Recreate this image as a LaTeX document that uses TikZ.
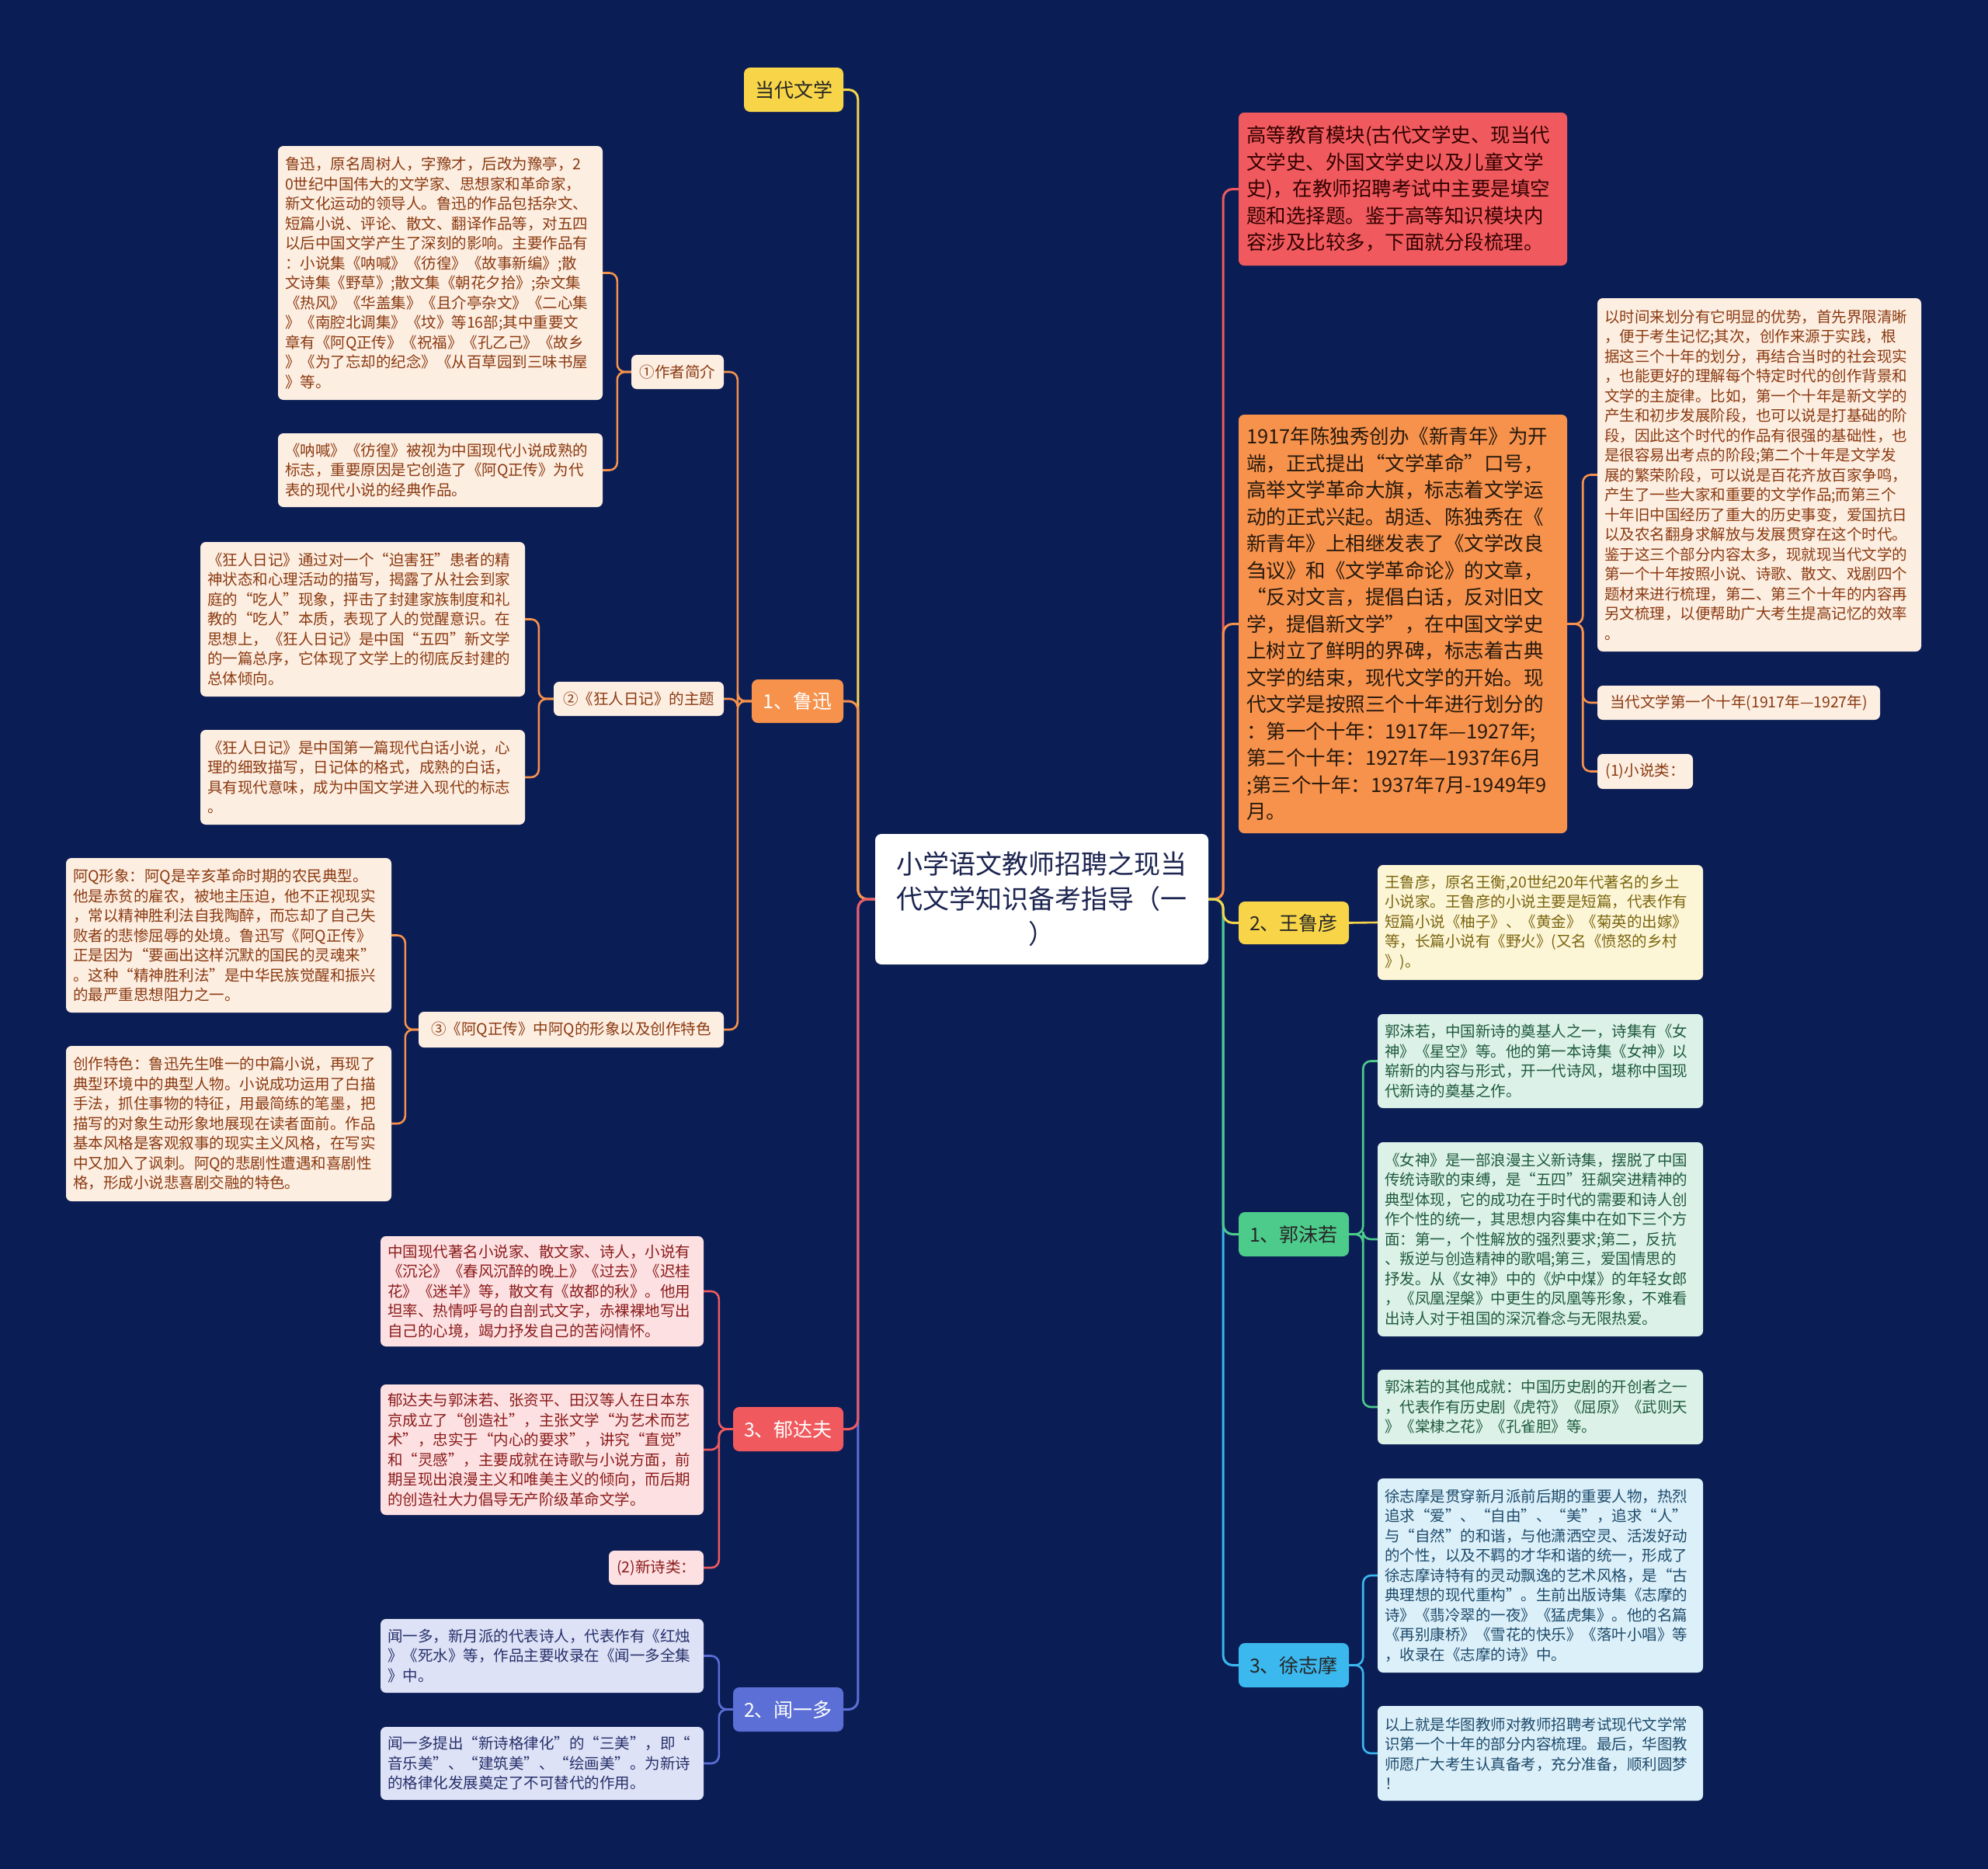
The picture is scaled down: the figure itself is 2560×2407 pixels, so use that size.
\documentclass[tikz,border=0pt]{standalone}
\usepackage{fontspec}
\setmainfont{Noto Sans CJK SC}
\definecolor{bg}{HTML}{0B1D55}
\definecolor{cY}{HTML}{F8D548}
\definecolor{cO}{HTML}{F7924C}
\definecolor{cR}{HTML}{F05A5E}
\definecolor{cB}{HTML}{5B6FD6}
\definecolor{cG}{HTML}{4DCB8B}
\definecolor{cC}{HTML}{3BB8EE}
\definecolor{fO}{HTML}{FDEEE2}\definecolor{tO}{HTML}{8A3A10}
\definecolor{fR}{HTML}{FDE1E2}\definecolor{tR}{HTML}{8B1B1B}
\definecolor{fB}{HTML}{DEE2F6}\definecolor{tB}{HTML}{26306B}
\definecolor{fY}{HTML}{FDF6D6}\definecolor{tY}{HTML}{7A6510}
\definecolor{fG}{HTML}{DCF2E8}\definecolor{tG}{HTML}{1F5A3E}
\definecolor{fC}{HTML}{DCF0FA}\definecolor{tC}{HTML}{1E4B6B}
\definecolor{dark}{HTML}{1C2450}
\begin{document}
\begin{tikzpicture}[x=1pt,y=-1pt,
  leaf/.style={rounded corners=7pt, inner xsep=9pt, inner ysep=0pt, align=left,
    font=\fontsize{19.5}{25.5}\selectfont, anchor=center},
  small/.style={rounded corners=7pt, inner sep=0pt, align=center,
    font=\fontsize{19.5}{24}\selectfont, anchor=center, minimum height=44pt},
  topic/.style={rounded corners=8pt, inner sep=0pt, align=center,
    font=\fontsize{25}{30}\selectfont, anchor=center, minimum height=57pt, minimum width=142pt},
  big/.style={rounded corners=7pt, inner xsep=10pt, inner ysep=0pt, align=left,
    font=\fontsize{25.5}{34.5}\selectfont, anchor=center, text width=403pt, minimum height=#1},
  conn/.style={line width=2.6pt, rounded corners=10pt},
  mconn/.style={line width=3pt, rounded corners=12pt}
]
\fill[bg] (0,0) rectangle (2560,2407);
\useasboundingbox (0,0) rectangle (2560,2407);

% central
\node[fill=white, rounded corners=8pt, minimum width=429pt, minimum height=168pt, inner sep=0pt,
  align=center, text=dark, font=\fontsize{34}{45}\selectfont] (root) at (1341.5,1158)
  {小学语文教师招聘之现当\\代文学知识备考指导（一\\）};

% ---------- left level 1
\node[topic, fill=cY, text=black!85, minimum width=128pt] (ddwx) at (1022,115.5) {当代文学};
\node[topic, fill=cO, text=white, minimum width=118pt, minimum height=56pt] (lx) at (1027,903) {1、鲁迅};
\node[topic, fill=cR, text=white] (ydf) at (1015,1840.5) {3、郁达夫};
\node[topic, fill=cB, text=white] (wyd) at (1015,2201.5) {2、闻一多};

% ---------- Lu Xun level 2
\node[small, fill=fO, text=tO, minimum width=119pt] (zz) at (872.5,479) {①作者简介};
\node[small, fill=fO, text=tO, minimum width=219pt] (krt) at (822.5,900) {②《狂人日记》的主题};
\node[small, fill=fO, text=tO, minimum width=393pt, minimum height=46pt] (aqt) at (735.5,1326) {③《阿Q正传》中阿Q的形象以及创作特色};

% ---------- Lu Xun leaves
\node[leaf, fill=fO, text=tO, text width=400pt, minimum height=327pt] (lx1) at (567,351.5)
{鲁迅，原名周树人，字豫才，后改为豫亭，2\\0世纪中国伟大的文学家、思想家和革命家，\\新文化运动的领导人。鲁迅的作品包括杂文、\\短篇小说、评论、散文、翻译作品等，对五四\\以后中国文学产生了深刻的影响。主要作品有\\：小说集《呐喊》《彷徨》《故事新编》;散\\文诗集《野草》;散文集《朝花夕拾》;杂文集\\《热风》《华盖集》《且介亭杂文》《二心集\\》《南腔北调集》《坟》等16部;其中重要文\\章有《阿Q正传》《祝福》《孔乙己》《故乡\\》《为了忘却的纪念》《从百草园到三味书屋\\》等。};
\node[leaf, fill=fO, text=tO, text width=400pt, minimum height=95pt] (lx2) at (567,605.5)
{《呐喊》《彷徨》被视为中国现代小说成熟的\\标志，重要原因是它创造了《阿Q正传》为代\\表的现代小说的经典作品。};
\node[leaf, fill=fO, text=tO, text width=400pt, minimum height=199pt] (kr1) at (467,797.5)
{《狂人日记》通过对一个“迫害狂”患者的精\\神状态和心理活动的描写，揭露了从社会到家\\庭的“吃人”现象，抨击了封建家族制度和礼\\教的“吃人”本质，表现了人的觉醒意识。在\\思想上，《狂人日记》是中国“五四”新文学\\的一篇总序，它体现了文学上的彻底反封建的\\总体倾向。};
\node[leaf, fill=fO, text=tO, text width=400pt, minimum height=122pt] (kr2) at (467,1001)
{《狂人日记》是中国第一篇现代白话小说，心\\理的细致描写，日记体的格式，成熟的白话，\\具有现代意味，成为中国文学进入现代的标志\\。};
\node[leaf, fill=fO, text=tO, text width=401pt, minimum height=199pt] (aq1) at (294.5,1204.5)
{阿Q形象：阿Q是辛亥革命时期的农民典型。\\他是赤贫的雇农，被地主压迫，他不正视现实\\，常以精神胜利法自我陶醉，而忘却了自己失\\败者的悲惨屈辱的处境。鲁迅写《阿Q正传》\\正是因为“要画出这样沉默的国民的灵魂来”\\。这种“精神胜利法”是中华民族觉醒和振兴\\的最严重思想阻力之一。};
\node[leaf, fill=fO, text=tO, text width=401pt, minimum height=200pt] (aq2) at (294.5,1447)
{创作特色：鲁迅先生唯一的中篇小说，再现了\\典型环境中的典型人物。小说成功运用了白描\\手法，抓住事物的特征，用最简练的笔墨，把\\描写的对象生动形象地展现在读者面前。作品\\基本风格是客观叙事的现实主义风格，在写实\\中又加入了讽刺。阿Q的悲剧性遭遇和喜剧性\\格，形成小说悲喜剧交融的特色。};

% ---------- Yu Dafu leaves
\node[leaf, fill=fR, text=tR, text width=398pt, minimum height=142pt] (yd1) at (698,1663)
{中国现代著名小说家、散文家、诗人，小说有\\《沉沦》《春风沉醉的晚上》《过去》《迟桂\\花》《迷羊》等，散文有《故都的秋》。他用\\坦率、热情呼号的自剖式文字，赤裸裸地写出\\自己的心境，竭力抒发自己的苦闷情怀。};
\node[leaf, fill=fR, text=tR, text width=398pt, minimum height=168pt] (yd2) at (698,1867)
{郁达夫与郭沫若、张资平、田汉等人在日本东\\京成立了“创造社”，主张文学“为艺术而艺\\术”，忠实于“内心的要求”，讲究“直觉”\\和“灵感”，主要成就在诗歌与小说方面，前\\期呈现出浪漫主义和唯美主义的倾向，而后期\\的创造社大力倡导无产阶级革命文学。};
\node[small, fill=fR, text=tR, minimum width=122pt] (xsl) at (845,2019) {(2)新诗类：};

% ---------- Wen Yiduo leaves
\node[leaf, fill=fB, text=tB, text width=398pt, minimum height=95pt] (wy1) at (698,2132.5)
{闻一多，新月派的代表诗人，代表作有《红烛\\》《死水》等，作品主要收录在《闻一多全集\\》中。};
\node[leaf, fill=fB, text=tB, text width=398pt, minimum height=94pt] (wy2) at (698,2271)
{闻一多提出“新诗格律化”的“三美”，即“\\音乐美”、“建筑美”、“绘画美”。为新诗\\的格律化发展奠定了不可替代的作用。};

% ---------- right level 1
\node[big=197pt, fill=cR, text=black!80!red] (red) at (1806.5,243.5)
{高等教育模块(古代文学史、现当代\\文学史、外国文学史以及儿童文学\\史)，在教师招聘考试中主要是填空\\题和选择题。鉴于高等知识模块内\\容涉及比较多，下面就分段梳理。};
\node[big=539pt, fill=cO, text=black!80!brown] (org) at (1806.5,803.5)
{1917年陈独秀创办《新青年》为开\\端，正式提出“文学革命”口号，\\高举文学革命大旗，标志着文学运\\动的正式兴起。胡适、陈独秀在《\\新青年》上相继发表了《文学改良\\刍议》和《文学革命论》的文章，\\“反对文言，提倡白话，反对旧文\\学，提倡新文学”，在中国文学史\\上树立了鲜明的界碑，标志着古典\\文学的结束，现代文学的开始。现\\代文学是按照三个十年进行划分的\\：第一个十年：1917年—1927年;\\第二个十年：1927年—1937年6月\\;第三个十年：1937年7月-1949年9\\月。};
\node[topic, fill=cY, text=black!85, minimum height=55pt] (wly) at (1666,1188.5) {2、王鲁彦};
\node[topic, fill=cG, text=black!85] (gmr) at (1666,1589.5) {1、郭沫若};
\node[topic, fill=cC, text=black!85] (xzm) at (1666,2144.5) {3、徐志摩};

% ---------- orange children
\node[leaf, fill=fO, text=tO, text width=399pt, minimum height=455pt] (sj) at (2265.5,611.5)
{以时间来划分有它明显的优势，首先界限清晰\\，便于考生记忆;其次，创作来源于实践，根\\据这三个十年的划分，再结合当时的社会现实\\，也能更好的理解每个特定时代的创作背景和\\文学的主旋律。比如，第一个十年是新文学的\\产生和初步发展阶段，也可以说是打基础的阶\\段，因此这个时代的作品有很强的基础性，也\\是很容易出考点的阶段;第二个十年是文学发\\展的繁荣阶段，可以说是百花齐放百家争鸣，\\产生了一些大家和重要的文学作品;而第三个\\十年旧中国经历了重大的历史事变，爱国抗日\\以及农名翻身求解放与发展贯穿在这个时代。\\鉴于这三个部分内容太多，现就现当代文学的\\第一个十年按照小说、诗歌、散文、戏剧四个\\题材来进行梳理，第二、第三个十年的内容再\\另文梳理，以便帮助广大考生提高记忆的效率\\。};
\node[small, fill=fO, text=tO, minimum width=364pt] (dd) at (2239,905) {当代文学第一个十年(1917年—1927年)};
\node[small, fill=fO, text=tO, minimum width=123pt, minimum height=45pt] (xs) at (2118.5,993.5) {(1)小说类：};

% ---------- Wang Luyan
\node[leaf, fill=fY, text=tY, text width=401pt, minimum height=148pt] (wl1) at (1983.5,1188)
{王鲁彦，原名王衡,20世纪20年代著名的乡土\\小说家。王鲁彦的小说主要是短篇，代表作有\\短篇小说《柚子》、《黄金》《菊英的出嫁》\\等，长篇小说有《野火》(又名《愤怒的乡村\\》)。};

% ---------- Guo Moruo
\node[leaf, fill=fG, text=tG, text width=401pt, minimum height=121pt] (gm1) at (1983.5,1366.5)
{郭沫若，中国新诗的奠基人之一，诗集有《女\\神》《星空》等。他的第一本诗集《女神》以\\崭新的内容与形式，开一代诗风，堪称中国现\\代新诗的奠基之作。};
\node[leaf, fill=fG, text=tG, text width=401pt, minimum height=250pt] (gm2) at (1983.5,1596)
{《女神》是一部浪漫主义新诗集，摆脱了中国\\传统诗歌的束缚，是“五四”狂飙突进精神的\\典型体现，它的成功在于时代的需要和诗人创\\作个性的统一，其思想内容集中在如下三个方\\面：第一，个性解放的强烈要求;第二，反抗\\、叛逆与创造精神的歌唱;第三，爱国情思的\\抒发。从《女神》中的《炉中煤》的年轻女郎\\，《凤凰涅槃》中更生的凤凰等形象，不难看\\出诗人对于祖国的深沉眷念与无限热爱。};
\node[leaf, fill=fG, text=tG, text width=401pt, minimum height=96pt] (gm3) at (1983.5,1812)
{郭沫若的其他成就：中国历史剧的开创者之一\\，代表作有历史剧《虎符》《屈原》《武则天\\》《棠棣之花》《孔雀胆》等。};

% ---------- Xu Zhimo
\node[leaf, fill=fC, text=tC, text width=401pt, minimum height=250pt] (xz1) at (1983.5,2029)
{徐志摩是贯穿新月派前后期的重要人物，热烈\\追求“爱”、“自由”、“美”，追求“人”\\与“自然”的和谐，与他潇洒空灵、活泼好动\\的个性，以及不羁的才华和谐的统一，形成了\\徐志摩诗特有的灵动飘逸的艺术风格，是“古\\典理想的现代重构”。生前出版诗集《志摩的\\诗》《翡冷翠的一夜》《猛虎集》。他的名篇\\《再别康桥》《雪花的快乐》《落叶小唱》等\\，收录在《志摩的诗》中。};
\node[leaf, fill=fC, text=tC, text width=401pt, minimum height=122pt] (xz2) at (1983.5,2258)
{以上就是华图教师对教师招聘考试现代文学常\\识第一个十年的部分内容梳理。最后，华图教\\师愿广大考生认真备考，充分准备，顺利圆梦\\！};

% ========== connectors
\begin{scope}[on background layer/.style={}]
\end{scope}
% left main spine
\draw[mconn, cY] (root.west) -- ++(-22,0) |- (ddwx.east);
\draw[mconn, cO] (root.west) -- ++(-22,0) |- (lx.east);
\draw[mconn, cB] (root.west) -- ++(-22,0) |- (wyd.east);
\draw[mconn, cR] (root.west) -- ++(-22,0) |- (ydf.east);
% right main spine
\draw[mconn, cR] (root.east) -- ++(19,0) |- (red.west);
\draw[mconn, cO] (root.east) -- ++(19,0) |- (org.west);
\draw[mconn, cC] (root.east) -- ++(19,0) |- (xzm.west);
\draw[mconn, cG] (root.east) -- ++(19,0) |- (gmr.west);
\draw[mconn, cY] (root.east) -- ++(19,0) |- (wly.west);
% Lu Xun
\draw[conn, cO] (lx.west) -- ++(-18,0) |- (zz.east);
\draw[conn, cO] (lx.west) -- ++(-18,0) |- (krt.east);
\draw[conn, cO] (lx.west) -- ++(-18,0) |- (aqt.east);
\draw[conn, cO] (zz.west) -- ++(-18,0) |- (lx1.east);
\draw[conn, cO] (zz.west) -- ++(-18,0) |- (lx2.east);
\draw[conn, cO] (krt.west) -- ++(-19,0) |- (kr1.east);
\draw[conn, cO] (krt.west) -- ++(-19,0) |- (kr2.east);
\draw[conn, cO] (aqt.west) -- ++(-17,0) |- (aq1.east);
\draw[conn, cO] (aqt.west) -- ++(-17,0) |- (aq2.east);
% Yu Dafu
\draw[conn, cR] (ydf.west) -- ++(-18,0) |- (yd1.east);
\draw[conn, cR] (ydf.west) -- ++(-18,0) |- (yd2.east);
\draw[conn, cR] (ydf.west) -- ++(-18,0) |- (xsl.east);
% Wen Yiduo
\draw[conn, cB] (wyd.west) -- ++(-18,0) |- (wy1.east);
\draw[conn, cB] (wyd.west) -- ++(-18,0) |- (wy2.east);
% orange
\draw[conn, cO] (org.east) -- ++(20,0) |- (sj.west);
\draw[conn, cO] (org.east) -- ++(20,0) |- (dd.west);
\draw[conn, cO] (org.east) -- ++(20,0) |- (xs.west);
% Wang
\draw[conn, cY] (wly.east) -- (wl1.west);
% Guo
\draw[conn, cG] (gmr.east) -- ++(18,0) |- (gm1.west);
\draw[conn, cG] (gmr.east) -- ++(18,0) |- (gm2.west);
\draw[conn, cG] (gmr.east) -- ++(18,0) |- (gm3.west);
% Xu
\draw[conn, cC] (xzm.east) -- ++(18,0) |- (xz1.west);
\draw[conn, cC] (xzm.east) -- ++(18,0) |- (xz2.west);
\end{tikzpicture}
\end{document}
